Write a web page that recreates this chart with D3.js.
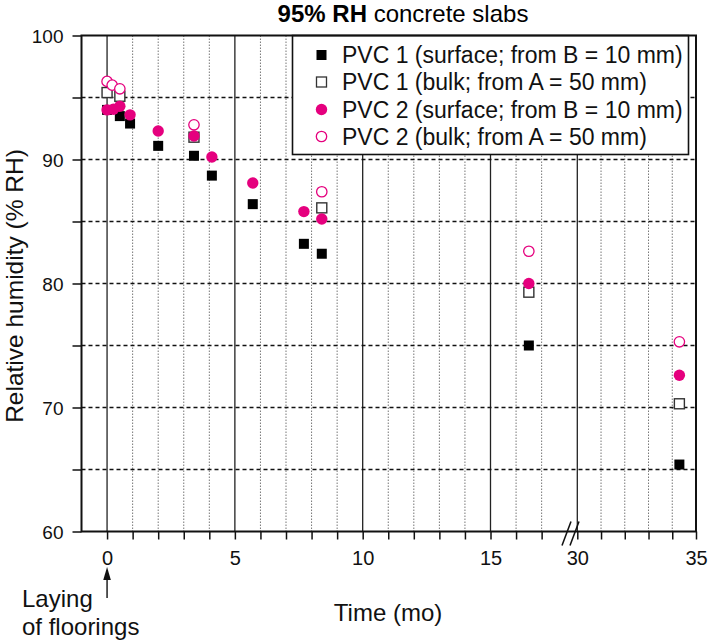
<!DOCTYPE html>
<html>
<head>
<meta charset="utf-8">
<script src="https://cdn.jsdelivr.net/npm/d3@7"></script>
<style>
  html, body { margin: 0; padding: 0; background: #fff; }
  svg { display: block; font-family: "Liberation Sans", Arial, Helvetica, sans-serif; }
</style>
</head>
<body>
<svg id="chart" width="709" height="644"></svg>
<script>
// ---------------- data ----------------
const seriesNames = [
  "PVC 1 (surface; from B = 10 mm)",
  "PVC 1 (bulk; from A = 50 mm)",
  "PVC 2 (surface; from B = 10 mm)",
  "PVC 2 (bulk; from A = 50 mm)"
];
const pvc1SurfaceTime = [0, 0.5, 0.9, 2.0, 3.4, 4.1, 5.7, 7.7, 8.4, 16.5, 34.3];
const pvc1SurfaceRH   = [94.0, 93.5, 92.9, 91.1, 90.3, 88.7, 86.4, 83.2, 82.4, 75.0, 65.4];
const pvc1BulkTime    = [0, 0.5, 3.4, 8.4, 16.5, 34.3];
const pvc1BulkRH      = [95.4, 95.1, 91.8, 86.1, 79.3, 70.3];
const pvc2SurfaceTime = [0, 0.25, 0.5, 0.9, 2.0, 3.4, 4.1, 5.7, 7.7, 8.4, 16.5, 34.3];
const pvc2SurfaceRH   = [94.0, 94.05, 94.3, 93.6, 92.3, 91.9, 90.2, 88.1, 85.8, 85.2, 80.0, 72.6];
const pvc2BulkTime    = [0, 0.2, 0.5, 3.4, 8.4, 16.5, 34.3];
const pvc2BulkRH      = [96.3, 96.0, 95.7, 92.8, 87.4, 82.6, 75.3];

const xTickLabelsLeft  = [0, 5, 10, 15];
const xTickLabelsRight = [30, 35];
const yTickLabels = [60, 70, 80, 90, 100];
const yMinorTicks = [60, 65, 70, 75, 80, 85, 90, 95, 100];
const yDashedGrid = [65, 70, 75, 80, 85, 90, 95];
const xMinorLeft  = [1,2,3,4,6,7,8,9,11,12,13,14,16,17];
const xMinorRight = [31,32,33,34];
const xMajorGrid  = [0, 5, 10, 15, 30];
const xTicksLeft  = [0,1,2,3,4,5,6,7,8,9,10,11,12,13,14,15,16,17];
const xTicksRight = [30,31,32,33,34,35];

// ---------------- layout ----------------
const PINK = "#e5007e";
const pL = 81.5, pR = 696, pT = 35.5, pB = 531.5;
const breakX = 567;

const xL = d3.scaleLinear().domain([-1, 15]).range([pL, 490.5]);
const xR = d3.scaleLinear().domain([30, 35]).range([577.3, pR]);
const y  = d3.scaleLinear().domain([60, 100]).range([pB, pT]);
const xPos = t => (t < 25 ? xL(t) : xR(t));

const svg = d3.select("#chart");

// title
const title = svg.append("text")
  .attr("x", 403).attr("y", 22)
  .attr("text-anchor", "middle")
  .attr("font-size", 24);
title.append("tspan").attr("font-weight", "bold").text("95% RH");
title.append("tspan").text(" concrete slabs");

// grid: dotted verticals
const g = svg.append("g");
g.selectAll("line.vminL").data(xMinorLeft).join("line")
  .attr("x1", d => xL(d)).attr("x2", d => xL(d))
  .attr("y1", pT).attr("y2", pB)
  .attr("stroke", "#777").attr("stroke-width", 1)
  .attr("stroke-dasharray", "1.5,1.5");
g.selectAll("line.vminR").data(xMinorRight).join("line")
  .attr("x1", d => xR(d)).attr("x2", d => xR(d))
  .attr("y1", pT).attr("y2", pB)
  .attr("stroke", "#777").attr("stroke-width", 1)
  .attr("stroke-dasharray", "1.5,1.5");
// solid verticals
g.selectAll("line.vmaj").data(xMajorGrid).join("line")
  .attr("x1", d => xPos(d)).attr("x2", d => xPos(d))
  .attr("y1", pT).attr("y2", pB)
  .attr("stroke", "#222").attr("stroke-width", 1.3);
// dashed horizontals
g.selectAll("line.h").data(yDashedGrid).join("line")
  .attr("x1", pL).attr("x2", pR)
  .attr("y1", d => y(d)).attr("y2", d => y(d))
  .attr("stroke", "#111").attr("stroke-width", 1.5)
  .attr("stroke-dasharray", "4,3");

// legend box
const legX = 292.5, legY = pT, legW = 396, legH = 119;
svg.append("rect")
  .attr("x", legX).attr("y", legY).attr("width", legW).attr("height", legH)
  .attr("fill", "#fff").attr("stroke", "#111").attr("stroke-width", 1.6);

// frame
svg.append("rect")
  .attr("x", pL).attr("y", pT).attr("width", pR - pL).attr("height", pB - pT)
  .attr("fill", "none").attr("stroke", "#111").attr("stroke-width", 2);

// y axis
const yAxis = d3.axisLeft(y).tickValues(yMinorTicks).tickSize(9)
  .tickFormat(d => yTickLabels.includes(d) ? d : "");
const ya = svg.append("g").attr("transform", `translate(${pL},0)`).call(yAxis);
ya.select(".domain").remove();
ya.selectAll(".tick line").attr("stroke", "#111").attr("stroke-width", 1.5);
ya.selectAll(".tick text").attr("font-size", 19).attr("font-family", "Liberation Sans, Arial, sans-serif")
  .attr("fill", "#111").attr("x", -18).attr("dy", "0.35em");

// x axis
const xAxisL = d3.axisBottom(xL).tickValues(xTicksLeft).tickSize(8)
  .tickFormat(d => xTickLabelsLeft.includes(d) ? d : "");
const xa = svg.append("g").attr("transform", `translate(0,${pB})`).call(xAxisL);
xa.select(".domain").remove();
const xAxisR = d3.axisBottom(xR).tickValues(xTicksRight).tickSize(8)
  .tickFormat(d => xTickLabelsRight.includes(d) ? d : "");
const xb = svg.append("g").attr("transform", `translate(0,${pB})`).call(xAxisR);
xb.select(".domain").remove();
[xa, xb].forEach(a => {
  a.selectAll(".tick line").attr("stroke", "#111").attr("stroke-width", 1.5);
  a.selectAll(".tick text").attr("font-size", 20).attr("font-family", "Liberation Sans, Arial, sans-serif")
    .attr("fill", "#111").attr("y", 19).attr("dy", "0.71em");
});

// axis break marks
const brk = svg.append("g").attr("stroke", "#111").attr("stroke-width", 1.6);
brk.append("line").attr("x1", breakX - 5).attr("y1", pB + 14).attr("x2", breakX + 4).attr("y2", pB - 10);
brk.append("line").attr("x1", breakX + 3).attr("y1", pB + 14).attr("x2", breakX + 12).attr("y2", pB - 10);

// markers
const sq = 10, rad = 5.7;
function squares(times, vals, filled) {
  svg.append("g").selectAll("rect").data(times.map((t, i) => [t, vals[i]])).join("rect")
    .attr("x", d => xPos(d[0]) - sq / 2).attr("y", d => y(d[1]) - sq / 2)
    .attr("width", sq).attr("height", sq)
    .attr("fill", filled ? "#000" : "#fff")
    .attr("stroke", filled ? "none" : "#333").attr("stroke-width", 1.4);
}
function circles(times, vals, filled) {
  svg.append("g").selectAll("circle").data(times.map((t, i) => [t, vals[i]])).join("circle")
    .attr("cx", d => xPos(d[0])).attr("cy", d => y(d[1]))
    .attr("r", filled ? rad : rad - 0.5)
    .attr("fill", filled ? PINK : "#fff")
    .attr("stroke", filled ? "none" : PINK).attr("stroke-width", 1.3);
}
squares(pvc1SurfaceTime, pvc1SurfaceRH, true);
squares(pvc1BulkTime, pvc1BulkRH, false);
circles(pvc2SurfaceTime, pvc2SurfaceRH, true);
circles(pvc2BulkTime, pvc2BulkRH, false);

// legend entries
const legRows = [55, 82, 109.5, 136.5];
const leg = svg.append("g");
seriesNames.forEach((name, i) => {
  const cy = legRows[i], cx = 321.5;
  if (i < 2) {
    leg.append("rect").attr("x", cx - 5).attr("y", cy - 5).attr("width", 10).attr("height", 10)
      .attr("fill", i === 0 ? "#000" : "#fff").attr("stroke", i === 0 ? "none" : "#333").attr("stroke-width", 1.3);
  } else {
    leg.append("circle").attr("cx", cx).attr("cy", cy).attr("r", i === 2 ? 5.7 : 5.2)
      .attr("fill", i === 2 ? PINK : "#fff").attr("stroke", i === 2 ? "none" : PINK).attr("stroke-width", 1.3);
  }
  leg.append("text").attr("x", 342).attr("y", cy + 8).attr("font-size", 23).attr("fill", "#111").text(name);
});

// axis titles
svg.append("text")
  .attr("transform", `translate(23,${286}) rotate(-90)`)
  .attr("text-anchor", "middle").attr("font-size", 24.5).attr("fill", "#111")
  .text("Relative humidity (% RH)");
svg.append("text")
  .attr("x", 388).attr("y", 621).attr("text-anchor", "middle")
  .attr("font-size", 24).attr("fill", "#111").text("Time (mo)");

// annotation
svg.append("text").attr("x", 22).attr("y", 607).attr("font-size", 24).attr("fill", "#111").text("Laying");
svg.append("text").attr("x", 22).attr("y", 635).attr("font-size", 24).attr("fill", "#111").text("of floorings");
svg.append("line").attr("x1", xL(0)).attr("x2", xL(0)).attr("y1", 598).attr("y2", 578)
  .attr("stroke", "#111").attr("stroke-width", 1.4);
svg.append("path")
  .attr("d", `M${xL(0)},567 L${xL(0) - 3.8},580 L${xL(0) + 3.8},580 Z`)
  .attr("fill", "#111");
</script>
</body>
</html>
